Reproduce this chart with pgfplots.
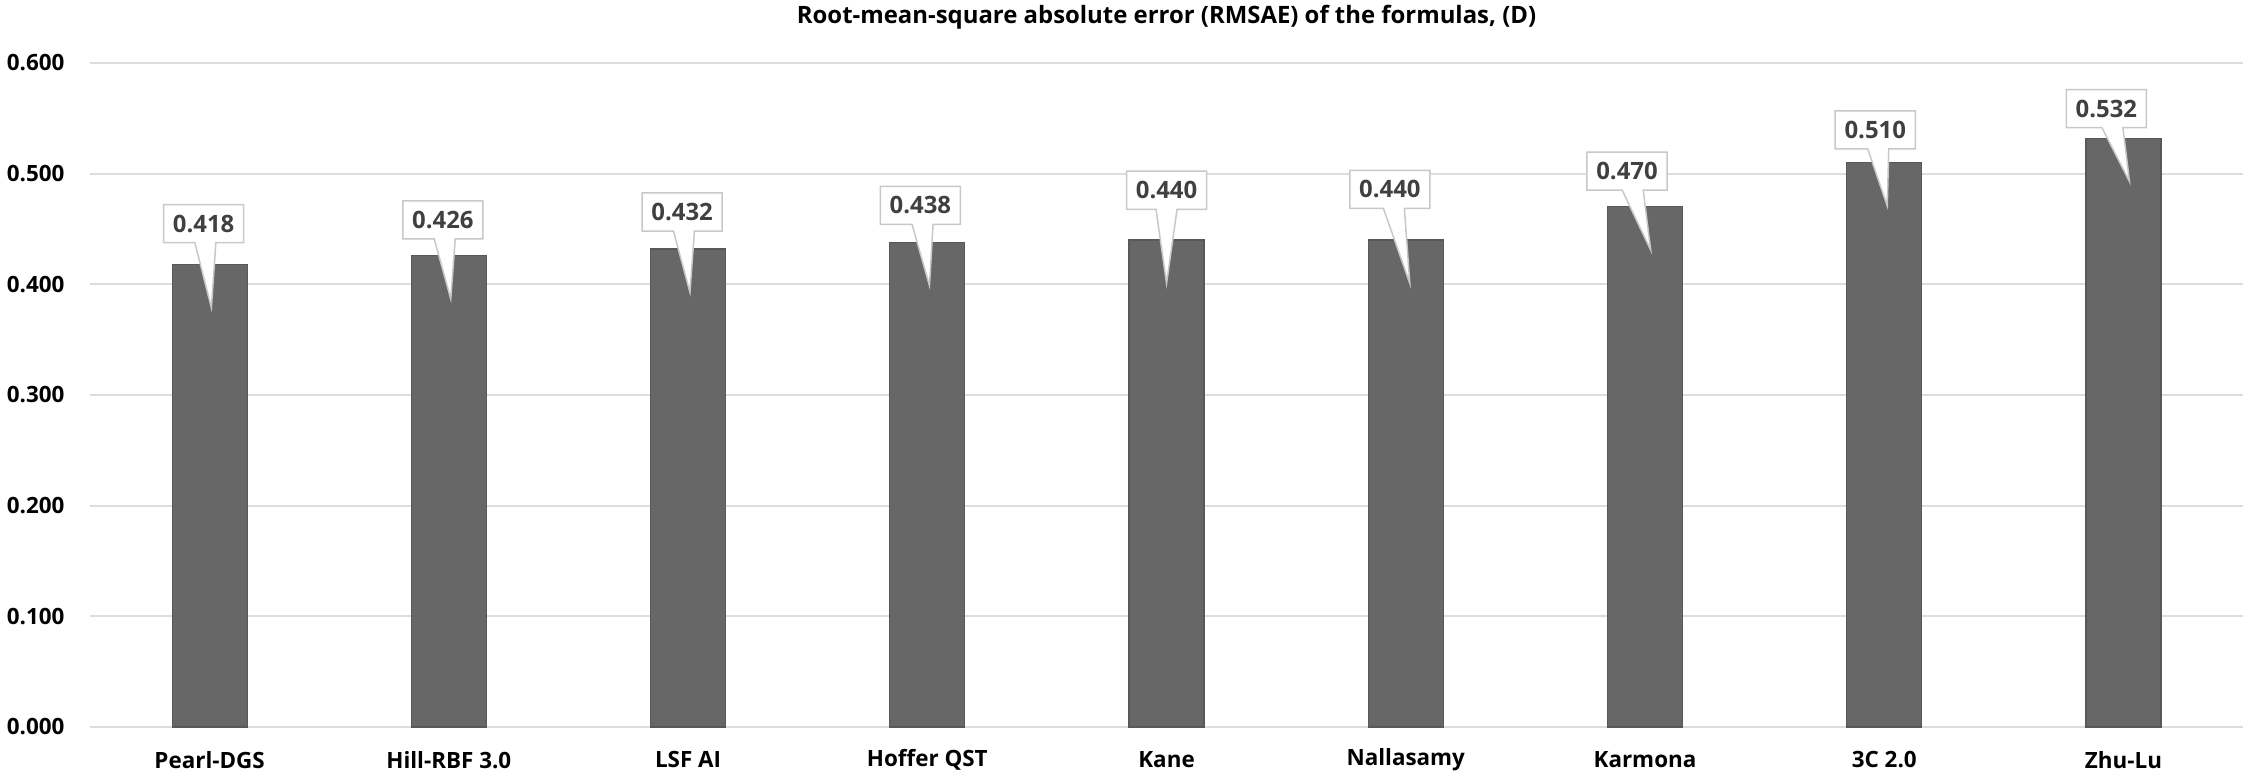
\documentclass[border=0pt]{standalone}
\usepackage{fontspec}
\setmainfont{Open Sans}
\usepackage{pgfplots}
\pgfplotsset{compat=1.18}
\usepackage{pgfplotstable}
\usetikzlibrary{shapes.callouts}
\definecolor{barc}{HTML}{676767}
\definecolor{gridc}{HTML}{DDDDDD}
\definecolor{lblc}{HTML}{404040}
\definecolor{boxc}{HTML}{C8C8C8}

\pgfplotstableread{
x y gap dx
0 0.418 7.0 -2.0
1 0.426 5.3 -2.0
2 0.432 5.7 -2.0
3 0.438 5.7 -2.3
4 0.440 10.0 0.0
5 0.440 10.3 -5.3
6 0.470 5.3 -6.0
7 0.510 4.3 -3.0
8 0.532 3.3 -5.7
}\datatable

\begin{document}
\begin{tikzpicture}
\begin{axis}[
  at={(0,0)}, anchor=south west,
  scale only axis, width=717.7bp, height=221.33bp,
  xmin=-0.5, xmax=8.5, ymin=0, ymax=0.6,
  clip=false,
  axis line style={draw=none},
  major tick length=0pt,
  ybar, bar width=25bp,
  ytick={0,0.1,0.2,0.3,0.4,0.5,0.6},
  ymajorgrids, grid style={gridc, line width=0.6bp},
  xtick={0,1,2,3,4,5,6,7,8},
  xticklabels={Pearl-DGS,Hill-RBF 3.0,LSF AI,Hoffer QST,Kane,Nallasamy,Karmona,3C 2.0,Zhu-Lu},
  /pgf/number format/.cd, fixed, fixed zerofill, precision=3, assume math mode=true,
  /pgfplots/.cd,
  yticklabel style={font=\bfseries\fontsize{7.5}{9}\selectfont, anchor=east, xshift=-8.3bp, inner sep=0pt},
  xticklabel style={font=\bfseries\fontsize{7.5}{9}\selectfont, anchor=center, yshift=-11bp, inner sep=0pt},
  title={Root-mean-square absolute error (RMSAE)\ of the formulas, (D)},
  every axis title/.style={at={(0.5,1)}, anchor=center, yshift=15.3bp, font=\bfseries\fontsize{8}{10}\selectfont, inner sep=0pt},
]
\addplot[fill=barc, draw=barc!85!black, line width=0.4bp,
  visualization depends on={\thisrow{gap} \as \myGAP},
  visualization depends on={\thisrow{dx} \as \myDX},
  nodes near coords={\pgfmathprintnumber[fixed,fixed zerofill,precision=3,assume math mode=true]{\pgfplotspointmeta}},
  every node near coord/.append style={shape=rectangle callout, draw=boxc, fill=white,
    line width=0.5bp, minimum width=26.7bp, minimum height=12.7bp, inner sep=0pt,
    anchor=south, xshift=\myDX bp, yshift=\myGAP bp,
    callout relative pointer={({-\myDX*1bp},{-(\myGAP+14.7)*1bp})},
    callout pointer width=7bp,
    font=\bfseries\fontsize{8}{10}\selectfont, text=lblc}
] table[x=x,y=y]{\datatable};
\end{axis}
\pgfresetboundingbox
\useasboundingbox (-30bp,-18bp) rectangle (720bp,242.33bp);
\end{tikzpicture}
\end{document}
